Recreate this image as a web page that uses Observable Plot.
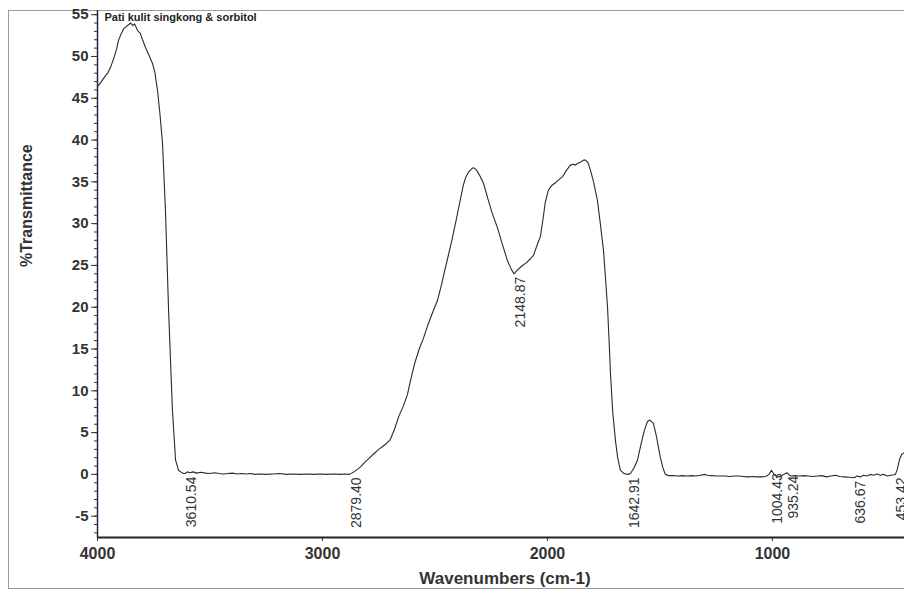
<!DOCTYPE html>
<html>
<head>
<meta charset="utf-8">
<script src="https://cdn.jsdelivr.net/npm/d3@7"></script>
<script src="https://cdn.jsdelivr.net/npm/@observablehq/plot@0.6"></script>
<style>
  html, body { margin: 0; padding: 0; background: #fff; overflow: hidden; }
  #wrap { position: relative; width: 904px; height: 591px; }
  #border { position: absolute; left: 8px; top: 10px; width: 1000px; height: 577px;
            border: 1px solid #9a9a9a; border-right: none; }
  #chart { position: absolute; left: 0; top: 0; }
</style>
</head>
<body>
<div id="wrap"><div id="border"></div><div id="chart"></div></div>
<script>
const title = "Pati kulit singkong & sorbitol";
const xLabel = "Wavenumbers (cm-1)";
const yLabel = "%Transmittance";
const xTicks = [4000, 3000, 2000, 1000];
const yTicks = [-5, 0, 5, 10, 15, 20, 25, 30, 35, 40, 45, 50, 55];
const yMinorTicks = d3.range(-7, 56, 1);

const wavenumber = [
  4000, 3985, 3970, 3955, 3942, 3930, 3915, 3907, 3895, 3884, 3872, 3862, 3852, 3844, 3835, 3822, 3810, 3800, 3787, 3772,
  3756, 3745, 3733, 3722, 3711, 3698, 3684, 3667, 3653, 3640, 3630, 3618, 3610.54, 3600, 3590, 3575, 3560,
  3540, 3520, 3500, 3480, 3460, 3440, 3420, 3400, 3380, 3360, 3340, 3320, 3300, 3280, 3250, 3220, 3190, 3160, 3130, 3100,
  3070, 3040, 3010, 2980, 2950, 2920, 2900, 2879.40, 2860, 2845, 2831, 2810, 2790, 2770, 2750, 2730, 2715, 2698, 2680, 2660,
  2640, 2622, 2609, 2590, 2570, 2551, 2530, 2510, 2489, 2470, 2455, 2444, 2425, 2409, 2390, 2375, 2364, 2350, 2335, 2329,
  2315, 2300, 2284, 2265, 2245, 2222, 2200, 2178, 2160, 2148.87, 2135, 2115, 2095, 2075, 2062, 2045, 2031, 2020, 2010, 1996,
  1980, 1964, 1948, 1933, 1915, 1898, 1885, 1875, 1867, 1850, 1840, 1831, 1820, 1809, 1795, 1778, 1765, 1751, 1742, 1733,
  1726, 1720, 1710, 1698, 1688, 1676, 1660, 1642.91, 1631, 1615, 1600, 1585, 1570, 1556, 1545, 1529, 1515, 1505, 1498, 1487,
  1476, 1460, 1440, 1420, 1400, 1380, 1360, 1340,
  1320, 1300, 1290, 1270, 1250, 1230, 1210, 1190, 1170, 1150, 1130, 1110, 1090, 1070, 1050, 1030, 1015, 1004.43, 995, 980,
  965, 950, 935.24, 925, 915, 900, 880, 860, 840, 820, 800, 780, 760, 740, 720, 700, 680, 660, 636.67, 625,
  610, 595, 580, 565, 550, 535, 520, 505, 490, 475, 460, 453.42, 445, 435, 425, 413
];
const transmittance = [
  46.4, 46.9, 47.5, 48.0, 48.7, 49.6, 50.9, 51.9, 52.7, 53.3, 53.6, 53.8, 54.0, 53.7, 53.9, 53.1, 52.8, 52.0, 51.1, 50.2,
  49.2, 48.1, 45.9, 43.0, 39.6, 31.6, 19.6, 7.7, 1.7, 0.5, 0.3, 0.1, 0.1, 0.3, 0.2, 0.3, 0.15,
  0.25, 0.15, 0.1, 0.2, 0.1, 0.05, 0.1, 0.15, 0.05, 0.1, 0.05, 0.1, 0.0, 0.05, 0.0, 0.05, 0.1, 0.0, 0.05, 0.0,
  0.05, 0.0, 0.05, 0.0, 0.05, 0.0, 0.05, 0.0, 0.3, 0.6, 0.9, 1.5, 2.0, 2.5, 3.0, 3.4, 3.7, 4.2, 5.4, 7.0,
  8.2, 9.6, 11.2, 13.3, 15.0, 16.3, 18.0, 19.4, 20.8, 22.8, 24.6, 25.8, 28.0, 30.0, 32.5, 34.5, 35.5, 36.2, 36.6, 36.7,
  36.4, 35.7, 34.8, 33.0, 31.2, 29.5, 27.5, 25.6, 24.5, 24.0, 24.4, 24.9, 25.3, 25.8, 26.2, 27.5, 28.5, 30.5, 32.5, 34.0,
  34.6, 34.9, 35.3, 35.6, 36.4, 37.0, 37.1, 37.0, 37.2, 37.4, 37.6, 37.6, 37.3, 36.4, 35.0, 32.8, 30.0, 26.8, 23.5, 20.0,
  16.0, 12.1, 7.5, 4.1, 2.0, 0.5, 0.1, 0.0, 0.1, 0.8, 1.7, 3.5, 5.2, 6.3, 6.5, 6.1, 4.5, 3.0, 2.0, 0.8,
  0.0, -0.15, -0.15, -0.2, -0.15, -0.2, -0.15, -0.2,
  -0.1, 0.0, -0.1, -0.15, -0.2, -0.2, -0.2, -0.25, -0.2, -0.2, -0.25, -0.3, -0.25, -0.3, -0.3, -0.25, 0.0, 0.5, 0.1, -0.3,
  -0.3, 0.0, 0.2, -0.1, -0.2, -0.15, -0.2, -0.15, -0.2, -0.25, -0.2, -0.15, -0.3, -0.2, -0.1, -0.25, -0.3, -0.35, -0.4, -0.2,
  -0.3, -0.1, -0.2, 0.0, -0.1, 0.05, -0.1, 0.0, -0.2, -0.1, -0.05, 0.0, 0.6, 1.8, 2.4, 2.6
];
const peakWavenumbers = [3610.54, 2879.40, 2148.87, 1642.91, 1004.43, 935.24, 636.67, 453.42];
const peakLabels = ["3610.54", "2879.40", "2148.87", "1642.91", "1004.43", "935.24", "636.67", "453.42"];

const spectrum = wavenumber.map((w, i) => ({w, t: transmittance[i]}));
const peaks = peakWavenumbers.map((w, i) => ({w, t: transmittance[wavenumber.indexOf(w)], label: peakLabels[i]}));

const font = "'Liberation Sans', Arial, Helvetica, sans-serif";

const chart = Plot.plot({
  width: 904,
  height: 591,
  marginLeft: 97,
  marginRight: 0,
  marginTop: 10,
  marginBottom: 54,
  style: {fontFamily: font, color: "#333", background: "transparent", overflow: "hidden"},
  x: {domain: [4000, 413]},
  y: {domain: [-7.55, 55.5]},
  marks: [
    Plot.axisY(yMinorTicks, {tickSize: 3, tickFormat: () => "", stroke: "#333", label: null}),
    Plot.axisY(yTicks, {tickSize: 6, tickPadding: 3, fontSize: 15, fontWeight: "bold", fill: "#333", stroke: "#333",
      tickFormat: d => String(d), label: null}),
    Plot.axisX(xTicks, {tickSize: 4, tickPadding: 6, fontSize: 16, fontWeight: "bold", fill: "#333", stroke: "#333",
      tickFormat: d => String(d), label: null}),
    Plot.text([yLabel], {frameAnchor: "left", text: d => d, rotate: -90, dx: -71, dy: -7,
      fontSize: 16, fontWeight: "bold", fill: "#333"}),
    Plot.text([xLabel], {frameAnchor: "bottom", text: d => d, dy: 46, dx: 4,
      fontSize: 17, fontWeight: "bold", fill: "#333"}),
    Plot.ruleX([4000], {stroke: "#1f2a44", strokeWidth: 1.5}),
    Plot.ruleY([-7.55], {stroke: "#222", strokeWidth: 2}),
    Plot.line(spectrum, {x: "w", y: "t", stroke: "#2a2a2a", strokeWidth: 1.1}),
    Plot.text(peaks, {x: "w", y: "t", text: "label", rotate: -90, textAnchor: "end", lineAnchor: "top",
      dy: 3, dx: 1, fontSize: 14, fill: "#333"}),
    Plot.text([title], {frameAnchor: "top-left", text: d => d, textAnchor: "start", lineAnchor: "top",
      dx: 7, dy: 3, fontSize: 11, fontWeight: "bold", fill: "#222"})
  ]
});
document.getElementById("chart").appendChild(chart);
</script>
</body>
</html>
